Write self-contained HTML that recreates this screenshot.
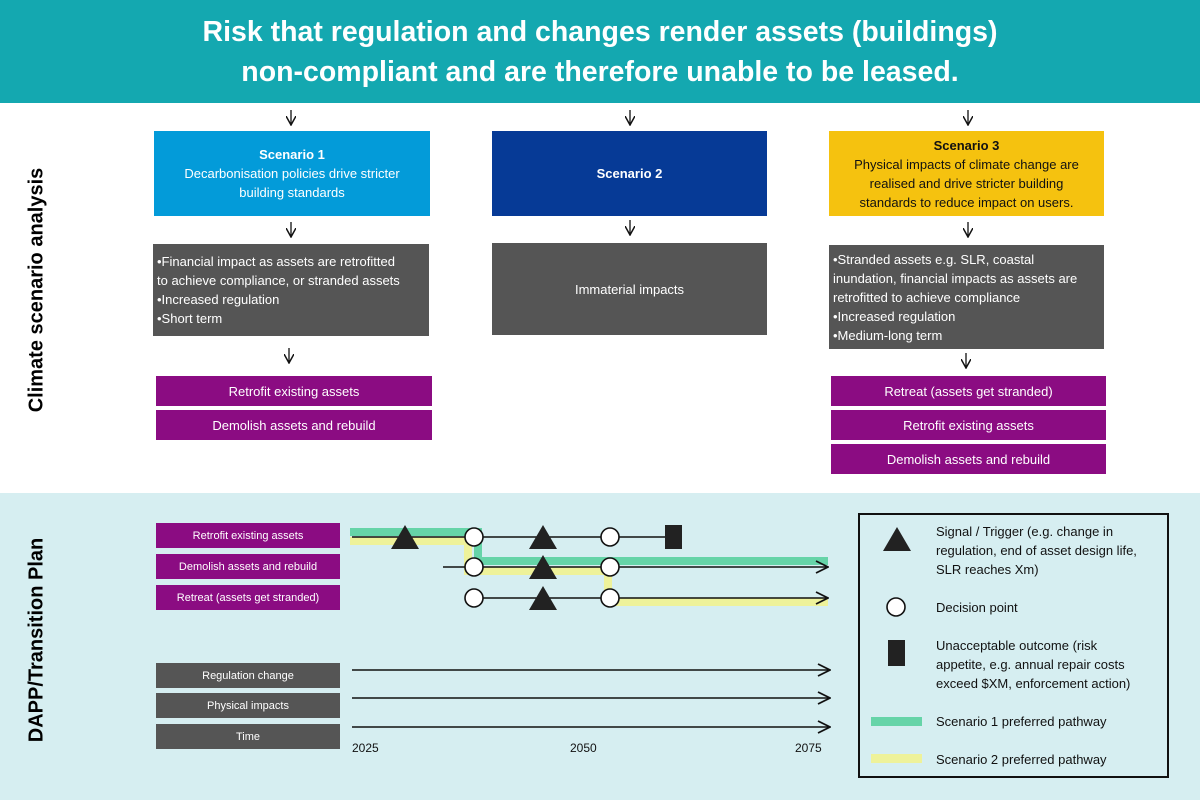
<!DOCTYPE html>
<html><head><meta charset="utf-8"><style>
*{margin:0;padding:0;box-sizing:border-box}
body{width:1200px;height:800px;position:relative;background:#fff;font-family:"Liberation Sans",Arial,sans-serif;overflow:hidden}
.a{position:absolute}
.box{position:absolute;display:flex;align-items:center;justify-content:center;text-align:center;color:#fff;font-size:13px;line-height:19px}
.gray{background:#555;color:#fff;font-size:13px;line-height:19px;position:absolute;padding:0 4px;display:flex;flex-direction:column;justify-content:center}
.pur{background:#8b0c82;color:#fff;font-size:13px;position:absolute;display:flex;align-items:center;justify-content:center}
.sp{background:#8b0c82;color:#fff;font-size:11px;position:absolute;display:flex;align-items:center;justify-content:center}
.sg{background:#555;color:#fff;font-size:11px;position:absolute;display:flex;align-items:center;justify-content:center}
.vt{position:absolute;transform:translate(-50%,-50%) rotate(-90deg);font-weight:bold;font-size:20px;white-space:nowrap;color:#000}
.lg{position:absolute;font-size:13px;line-height:19px;color:#111}
</style></head><body>
<div class="a" style="left:0;top:0;width:1200px;height:103px;background:#14a8b0"></div>
<div class="a" style="left:0;top:12px;width:1200px;text-align:center;color:#fff;font-weight:bold;font-size:28.5px;line-height:40px">Risk that regulation and changes render assets (buildings)<br>non-compliant and are therefore unable to be leased.</div>
<div class="a" style="left:0;top:493px;width:1200px;height:307px;background:#d6eef1"></div>

<div class="vt" style="left:37px;top:290px">Climate scenario analysis</div>
<div class="vt" style="left:37px;top:640px">DAPP/Transition Plan</div>

<div class="box" style="left:154px;top:131px;width:276px;height:85px;background:#039bd9"><div><b>Scenario 1</b><br>Decarbonisation policies drive stricter<br>building standards</div></div>
<div class="box" style="left:492px;top:131px;width:275px;height:85px;background:#063a96"><b>Scenario 2</b></div>
<div class="box" style="left:829px;top:131px;width:275px;height:85px;background:#f5c20f;color:#111"><div><b>Scenario 3</b><br>Physical impacts of climate change are<br>realised and drive stricter building<br>standards to reduce impact on users.</div></div>

<div class="gray" style="left:153px;top:244px;width:276px;height:92px"><div>•Financial impact as assets are retrofitted<br>to achieve compliance, or stranded assets<br>•Increased regulation<br>•Short term</div></div>
<div class="gray" style="left:492px;top:243px;width:275px;height:92px;align-items:center">Immaterial impacts</div>
<div class="gray" style="left:829px;top:245px;width:275px;height:104px"><div>•Stranded assets e.g. SLR, coastal<br>inundation, financial impacts as assets are<br>retrofitted to achieve compliance<br>•Increased regulation<br>•Medium-long term</div></div>

<div class="pur" style="left:156px;top:376px;width:276px;height:30px">Retrofit existing assets</div>
<div class="pur" style="left:156px;top:410px;width:276px;height:30px">Demolish assets and rebuild</div>
<div class="pur" style="left:831px;top:376px;width:275px;height:30px">Retreat (assets get stranded)</div>
<div class="pur" style="left:831px;top:410px;width:275px;height:30px">Retrofit existing assets</div>
<div class="pur" style="left:831px;top:444px;width:275px;height:30px">Demolish assets and rebuild</div>

<div class="sp" style="left:156px;top:523px;width:184px;height:25px">Retrofit existing assets</div>
<div class="sp" style="left:156px;top:554px;width:184px;height:25px">Demolish assets and rebuild</div>
<div class="sp" style="left:156px;top:585px;width:184px;height:25px">Retreat (assets get stranded)</div>
<div class="sg" style="left:156px;top:663px;width:184px;height:25px">Regulation change</div>
<div class="sg" style="left:156px;top:693px;width:184px;height:25px">Physical impacts</div>
<div class="sg" style="left:156px;top:724px;width:184px;height:25px">Time</div>

<svg class="a" style="left:0;top:0" width="1200" height="800">
<defs><marker id="h" viewBox="0 0 10 10" refX="9" refY="5" markerWidth="10" markerHeight="10" markerUnits="userSpaceOnUse" orient="auto"><path d="M0,0 L9,5 L0,10" fill="none" stroke="#111" stroke-width="1.5"/></marker>
<marker id="H" viewBox="0 0 14 14" refX="13" refY="7" markerWidth="14" markerHeight="14" markerUnits="userSpaceOnUse" orient="auto"><path d="M1,1 L13,7 L1,13" fill="none" stroke="#111" stroke-width="1.8"/></marker></defs>
<g stroke="#111" stroke-width="1.3" marker-end="url(#h)">
<line x1="291" y1="110" x2="291" y2="125"/><line x1="630" y1="110" x2="630" y2="125"/><line x1="968" y1="110" x2="968" y2="125"/>
<line x1="291" y1="222" x2="291" y2="237"/><line x1="630" y1="220" x2="630" y2="235"/><line x1="968" y1="222" x2="968" y2="237"/>
<line x1="289" y1="348" x2="289" y2="363"/><line x1="966" y1="353" x2="966" y2="368"/>
</g>
<g fill="none" stroke-width="8">
<path d="M350,541 H468 V571 H608 V602 H828" stroke="#eef29a"/>
<path d="M350,532 H478 V561 H828" stroke="#66d4a8"/>
</g>
<g stroke="#111" stroke-width="1.6">
<line x1="352" y1="537" x2="670" y2="537"/>
<line x1="443" y1="567" x2="828" y2="567" marker-end="url(#H)"/>
<line x1="473" y1="598" x2="828" y2="598" marker-end="url(#H)"/>
<line x1="352" y1="670" x2="830" y2="670" marker-end="url(#H)"/>
<line x1="352" y1="698" x2="830" y2="698" marker-end="url(#H)"/>
<line x1="352" y1="727" x2="830" y2="727" marker-end="url(#H)"/>
</g>
<g fill="#222">
<polygon points="405,525 391,549 419,549"/><polygon points="543,525 529,549 557,549"/>
<polygon points="543,555 529,579 557,579"/><polygon points="543,586 529,610 557,610"/>
<rect x="665" y="525" width="17" height="24"/>
<polygon points="897,527 883,551 911,551"/>
<rect x="888" y="640" width="17" height="26"/>
</g>
<g fill="#fff" stroke="#111" stroke-width="1.6">
<circle cx="474" cy="537" r="9"/><circle cx="610" cy="537" r="9"/>
<circle cx="474" cy="567" r="9"/><circle cx="610" cy="567" r="9"/>
<circle cx="474" cy="598" r="9"/><circle cx="610" cy="598" r="9"/>
<circle cx="896" cy="607" r="9"/>
</g>
<rect x="859" y="514" width="309" height="263" fill="none" stroke="#111" stroke-width="2"/>
<rect x="871" y="717" width="51" height="9" fill="#66d4a8"/>
<rect x="871" y="754" width="51" height="9" fill="#eef29a"/>
</svg>
<div class="lg" style="left:352px;top:739px;font-size:12px">2025</div>
<div class="lg" style="left:570px;top:739px;font-size:12px">2050</div>
<div class="lg" style="left:795px;top:739px;font-size:12px">2075</div>
<div class="lg" style="left:936px;top:522px">Signal / Trigger (e.g. change in<br>regulation, end of asset design life,<br>SLR reaches Xm)</div>
<div class="lg" style="left:936px;top:598px">Decision point</div>
<div class="lg" style="left:936px;top:636px">Unacceptable outcome (risk<br>appetite, e.g. annual repair costs<br>exceed $XM, enforcement action)</div>
<div class="lg" style="left:936px;top:712px">Scenario 1 preferred pathway</div>
<div class="lg" style="left:936px;top:750px">Scenario 2 preferred pathway</div>
</body></html>
